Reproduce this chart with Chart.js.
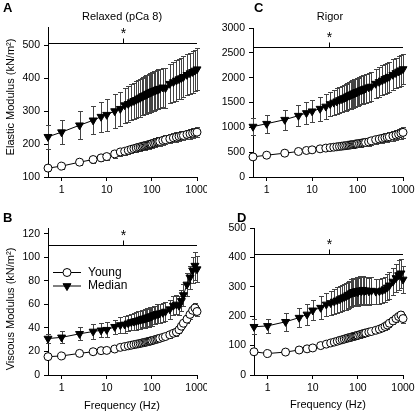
<!DOCTYPE html>
<html>
<head>
<meta charset="utf-8">
<script src="https://cdn.jsdelivr.net/npm/chart.js@4/dist/chart.umd.min.js"></script>
<style>
  body { margin: 0; background: #fff; }
  #wrap { position: relative; width: 415px; height: 411px; overflow: hidden;
          font-family: "Liberation Sans", Arial, sans-serif; color: #000; }
  canvas { position: absolute; }
  .t { position: absolute; font-size: 11px; white-space: nowrap; line-height: 1; }
  .lt { font-weight: bold; font-size: 13px; }
  .ctr { transform: translate(-50%, -50%); }
  .rot { transform: translate(-50%, -50%) rotate(-90deg); }
</style>
</head>
<body>
<div id="wrap">
  <canvas id="cA" width="207" height="200" style="left:0;top:0"></canvas>
  <canvas id="cC" width="208" height="200" style="left:207px;top:0"></canvas>
  <canvas id="cB" width="207" height="211" style="left:0;top:200px"></canvas>
  <canvas id="cD" width="208" height="211" style="left:207px;top:200px"></canvas>

  <div class="t lt" style="left:3px;top:1px">A</div>
  <div class="t lt" style="left:254px;top:1px">C</div>
  <div class="t lt" style="left:3px;top:211px">B</div>
  <div class="t lt" style="left:237px;top:211px">D</div>

  <div class="t ctr" style="left:122px;top:16px">Relaxed (pCa 8)</div>
  <div class="t ctr" style="left:330px;top:16px">Rigor</div>
  <div class="t rot" style="left:10px;top:97px">Elastic Modulus (kN/m²)</div>
  <div class="t rot" style="left:10px;top:309px">Viscous Modulus (kN/m²)</div>
  <div class="t ctr" style="left:122px;top:405px">Frequency (Hz)</div>
  <div class="t ctr" style="left:328px;top:404px">Frequency (Hz)</div>
</div>
<script>
// frequencies (Hz)
const freq = [0.5, 1, 2.5, 5, 7.5, 10,
  15, 20, 25, 30, 35, 40, 45, 50,
  55, 60, 65, 70, 75, 80, 85, 90, 95, 100,
  110, 120, 130, 140, 150,
  175, 200, 250, 300,
  350, 400, 450, 500,
  600, 700, 800, 900, 1000];

// A - elastic, relaxed
const aMedian = [222, 236, 257, 272, 283, 289,
  300, 307, 318, 322, 327, 331, 334, 338,
  340, 344, 346, 348, 350, 352, 354, 356, 357, 359,
  361, 363, 365, 367, 368,
  372, 370, 383, 388,
  393, 397, 400, 404,
  410, 415, 419, 423, 427];
const aMedianErr = [36, 37, 42, 43, 46, 49,
  52, 52, 53, 54, 55, 55, 56, 56,
  57, 57, 57, 58, 58, 58, 59, 59, 59, 59,
  60, 60, 60, 60, 60,
  60, 61, 60, 61,
  61, 61, 62, 62,
  62, 62, 63, 63, 63];
const aYoung = [127, 133, 145, 153, 158, 162,
  170, 176, 178, 181, 184, 186, 188, 190,
  191, 193, 194, 195, 196, 197, 198, 199, 200, 201,
  203, 204, 206, 207, 208,
  211, 213, 216, 219,
  221, 223, 225, 226,
  229, 231, 233, 235, 236];
const aYoungErr = [9, 9, 10, 10, 10, 10,
  11, 11, 11, 11, 11, 11, 12, 12,
  12, 12, 12, 12, 12, 12, 12, 12, 12, 12,
  13, 13, 13, 13, 13,
  13, 13, 13, 14,
  14, 14, 14, 14,
  15, 15, 15, 15, 15];

// B - viscous, relaxed
const bMedian = [31, 32, 35, 37, 38, 38.5,
  41, 42.5, 43, 44, 45, 45.5, 46, 46.5,
  47, 47.5, 48, 48, 48.5, 49, 49, 49.5, 50, 50,
  51, 51, 52, 52, 52.5,
  53, 54, 56, 59,
  60, 59, 63, 68,
  77, 83, 89, 93, 90];
const bMedianErr = [4, 5, 5.5, 6, 6, 6.5,
  6, 6.5, 7, 7, 7, 7, 7.5, 7.5,
  7.5, 7.5, 7.5, 8, 8, 8, 8, 8, 8, 8,
  8, 8, 8, 8, 8,
  8, 8, 8, 8,
  8, 8, 9, 9,
  10, 10, 11, 12, 11];
const bYoung = [15.6, 16.2, 18.4, 19.8, 20.7, 20.9,
  22.1, 23.5, 24.2, 24.8, 25.3, 25.8, 26.2, 26.5,
  26.9, 27.2, 27.5, 27.8, 28, 28.3, 28.5, 28.8, 29, 29.2,
  29.7, 30.1, 30.5, 30.9, 31.2,
  32, 32.7, 34.2, 35.5,
  36.5, 38.5, 41.5, 44,
  47.5, 51.5, 55, 57, 54];
const bYoungErr = [2, 2, 2, 2, 2, 2,
  2, 2, 2, 2, 2, 2, 2, 2,
  2, 2, 2, 2, 2, 2, 2, 2, 2, 2,
  2, 2, 2, 2, 2,
  2.5, 2.5, 2.5, 2.5,
  3, 3, 3, 3,
  3.5, 3.5, 4, 4, 4];

// C - elastic, rigor
const cMedian = [1015, 1073, 1154, 1235, 1289, 1324,
  1376, 1420, 1470, 1500, 1525, 1550, 1570, 1590,
  1605, 1625, 1640, 1652, 1665, 1677, 1688, 1698, 1708, 1716,
  1732, 1748, 1760, 1772, 1784,
  1808, 1822, 1880, 1915,
  1945, 1975, 1998, 2020,
  2060, 2095, 2125, 2150, 2174];
const cMedianErr = [170, 185, 200, 215, 220, 225,
  240, 245, 250, 255, 258, 262, 265, 268,
  270, 272, 274, 276, 278, 280, 281, 282, 283, 284,
  286, 288, 289, 290, 291,
  293, 295, 297, 299,
  300, 302, 303, 304,
  306, 307, 308, 309, 310];
const cYoung = [405, 439, 480, 514, 534, 547,
  567, 582, 592, 600, 608, 615, 621, 627,
  632, 637, 642, 646, 650, 654, 658, 662, 665, 669,
  675, 681, 686, 691, 696,
  707, 728, 752, 766,
  778, 790, 800, 810,
  828, 845, 862, 880, 898];
const cYoungErr = [28, 30, 32, 34, 36, 38,
  40, 42, 44, 46, 48, 50, 52, 54,
  55, 56, 57, 58, 60, 61, 62, 63, 64, 65,
  66, 68, 70, 72, 73,
  76, 78, 82, 85,
  88, 90, 92, 94,
  98, 102, 105, 108, 110];

// D - viscous, rigor
const dMedian = [164, 167, 181, 195, 206, 220,
  229, 240, 245, 250, 254, 258, 262, 265,
  268, 272, 274, 278, 280, 283, 281, 284, 286, 282,
  288, 285, 290, 286, 288,
  285, 287, 284, 285,
  288, 292, 298, 305,
  318, 330, 340, 346, 325];
const dMedianErr = [25, 24, 30, 33, 35, 34,
  40, 40, 42, 43, 44, 44, 45, 45,
  46, 46, 46, 47, 47, 47, 47, 47, 48, 48,
  48, 48, 48, 48, 47,
  46, 45, 44, 43,
  43, 43, 44, 45,
  46, 48, 50, 50, 46];
const dYoung = [79, 73, 78, 85, 89, 92,
  100, 105, 109, 112, 115, 118, 120, 122,
  124, 126, 127, 128, 130, 131, 132, 133, 134, 135,
  137, 139, 140, 142, 143,
  146, 148, 152, 156,
  160, 165, 170, 176,
  184, 192, 199, 204, 192];
const dYoungErr = [6, 6, 6, 6, 6, 6,
  7, 7, 7, 8, 8, 8, 8, 8,
  9, 9, 9, 9, 9, 9, 9, 9, 9, 9,
  10, 10, 10, 10, 10,
  10, 10, 10, 11,
  11, 11, 12, 12,
  12, 13, 13, 14, 14];

// ticks and the significance bar
const xTicks = [1, 10, 100, 1000];
const aTicks = [100, 200, 300, 400, 500];
const bTicks = [0, 20, 40, 60, 80, 100, 120];
const cTicks = [0, 500, 1000, 1500, 2000, 2500, 3000];
const dTicks = [0, 100, 200, 300, 400, 500];
const starLevels = [505, 110.5, 2625, 412];   // A, B, C, D
const starFreq = 23.5;

const FONT = '"Liberation Sans", Arial, sans-serif';

// error bars drawn under the markers
const errorBars = {
  id: 'errorBars',
  beforeDatasetsDraw(chart) {
    const { ctx, scales: { x, y } } = chart;
    ctx.save();
    ctx.strokeStyle = '#444';
    ctx.lineWidth = 1;
    chart.data.datasets.forEach(ds => {
      ds.data.forEach((p, i) => {
        const e = ds.err[i];
        const px = Math.round(x.getPixelForValue(p.x)) + 0.5;
        const top = Math.round(y.getPixelForValue(p.y + e)) + 0.5;
        const bot = Math.round(y.getPixelForValue(p.y - e)) + 0.5;
        ctx.beginPath();
        ctx.moveTo(px, top); ctx.lineTo(px, bot);
        ctx.moveTo(px - 2.5, top); ctx.lineTo(px + 2.5, top);
        ctx.moveTo(px - 2.5, bot); ctx.lineTo(px + 2.5, bot);
        ctx.stroke();
      });
    });
    ctx.restore();
  }
};

// horizontal bar with the asterisk
const starBar = {
  id: 'starBar',
  afterDatasetsDraw(chart, args, opts) {
    const { ctx, chartArea, scales: { x, y } } = chart;
    const yy = Math.round(y.getPixelForValue(opts.level)) + 0.5;
    const xx = Math.round(x.getPixelForValue(starFreq)) + 0.5;
    ctx.save();
    ctx.strokeStyle = '#000';
    ctx.lineWidth = 1;
    ctx.beginPath();
    ctx.moveTo(chartArea.left, yy); ctx.lineTo(chartArea.right, yy);
    ctx.moveTo(xx, yy); ctx.lineTo(xx, yy - 5);
    ctx.stroke();
    ctx.fillStyle = '#000';
    ctx.font = '14px ' + FONT;
    ctx.textAlign = 'center';
    ctx.textBaseline = 'middle';
    ctx.fillText('*', xx, yy - 9);
    ctx.restore();
  }
};

// legend in panel B
const boxLegend = {
  id: 'boxLegend',
  afterDraw(chart, args, opts) {
    if (!opts.show) return;
    const ctx = chart.ctx;
    const rows = [
      { label: 'Young', y: 72.5, style: { pointStyle: 'circle', radius: 4, borderWidth: 1, rotation: 0 }, fill: '#fff' },
      { label: 'Median', y: 86, style: { pointStyle: 'triangle', radius: 4.6, borderWidth: 1, rotation: 180 }, fill: '#000' }
    ];
    ctx.save();
    rows.forEach(r => {
      ctx.strokeStyle = '#000';
      ctx.lineWidth = 1;
      ctx.beginPath();
      ctx.moveTo(53, r.y); ctx.lineTo(81, r.y);
      ctx.stroke();
      ctx.fillStyle = r.fill;
      Chart.helpers.drawPoint(ctx, r.style, 67, r.y);
      ctx.fillStyle = '#000';
      ctx.font = '12px ' + FONT;
      ctx.textAlign = 'left';
      ctx.textBaseline = 'middle';
      ctx.fillText(r.label, 88, r.y);
    });
    ctx.restore();
  }
};

function panel(id, cfg) {
  const pts = arr => freq.map((f, i) => ({ x: f, y: arr[i] }));
  return new Chart(document.getElementById(id), {
    type: 'line',
    data: {
      datasets: [
        { label: 'Young', data: pts(cfg.young), err: cfg.youngErr, clip: false,
          borderColor: '#000', borderWidth: 1, pointStyle: 'circle', pointRadius: 4,
          pointBorderWidth: 1, pointBackgroundColor: '#fff', pointBorderColor: '#000' },
        { label: 'Median', data: pts(cfg.median), err: cfg.medianErr, clip: false,
          borderColor: '#000', borderWidth: 1, pointStyle: 'triangle', rotation: 180, pointRadius: 4.6,
          pointBorderWidth: 1, pointBackgroundColor: '#000', pointBorderColor: '#000' }
      ]
    },
    options: {
      responsive: false, animation: false, devicePixelRatio: 1, events: [],
      layout: { padding: { left: 0, top: cfg.padTop, right: cfg.padRight, bottom: 0 } },
      plugins: {
        legend: { display: false }, tooltip: { enabled: false },
        starBar: { level: cfg.star },
        boxLegend: { show: !!cfg.legend }
      },
      scales: {
        x: {
          type: 'logarithmic', min: 0.5, max: 1000,
          afterBuildTicks: s => { s.ticks = xTicks.map(v => ({ value: v })); },
          afterFit: s => { s.height = cfg.xHeight; s.paddingLeft = 0; s.paddingRight = 0; },
          grid: { display: true, drawOnChartArea: false, drawTicks: true, tickLength: 4, color: '#000' },
          border: { display: true, color: '#000', width: 1 },
          ticks: { color: '#000', font: { size: 10.5, family: FONT }, padding: 3,
                   autoSkip: false, maxRotation: 0, callback: v => String(v) }
        },
        y: {
          type: 'linear', min: cfg.yMin, max: cfg.yMax,
          afterBuildTicks: s => { s.ticks = cfg.yTicks.map(v => ({ value: v })); },
          afterFit: s => { s.width = cfg.yWidth; s.paddingTop = 0; s.paddingBottom = 0; },
          grid: { display: true, drawOnChartArea: false, drawTicks: true, tickLength: 4, color: '#000' },
          border: { display: true, color: '#000', width: 1 },
          ticks: { color: '#000', font: { size: 10.5, family: FONT }, padding: 4,
                   callback: v => String(v) }
        }
      }
    },
    plugins: [errorBars, starBar, boxLegend]
  });
}

panel('cA', { young: aYoung, youngErr: aYoungErr, median: aMedian, medianErr: aMedianErr,
  yMin: 100, yMax: 555, yTicks: aTicks, star: starLevels[0],
  padTop: 27, padRight: 10, xHeight: 23, yWidth: 48 });
panel('cB', { young: bYoung, youngErr: bYoungErr, median: bMedian, medianErr: bMedianErr,
  yMin: 0, yMax: 125, yTicks: bTicks, star: starLevels[1], legend: true,
  padTop: 28, padRight: 10, xHeight: 36, yWidth: 48 });
panel('cC', { young: cYoung, youngErr: cYoungErr, median: cMedian, medianErr: cMedianErr,
  yMin: 0, yMax: 3000, yTicks: cTicks, star: starLevels[2],
  padTop: 28, padRight: 12, xHeight: 23, yWidth: 46 });
panel('cD', { young: dYoung, youngErr: dYoungErr, median: dMedian, medianErr: dMedianErr,
  yMin: 0, yMax: 500, yTicks: dTicks, star: starLevels[3],
  padTop: 28, padRight: 12, xHeight: 36, yWidth: 47 });
</script>
</body>
</html>
